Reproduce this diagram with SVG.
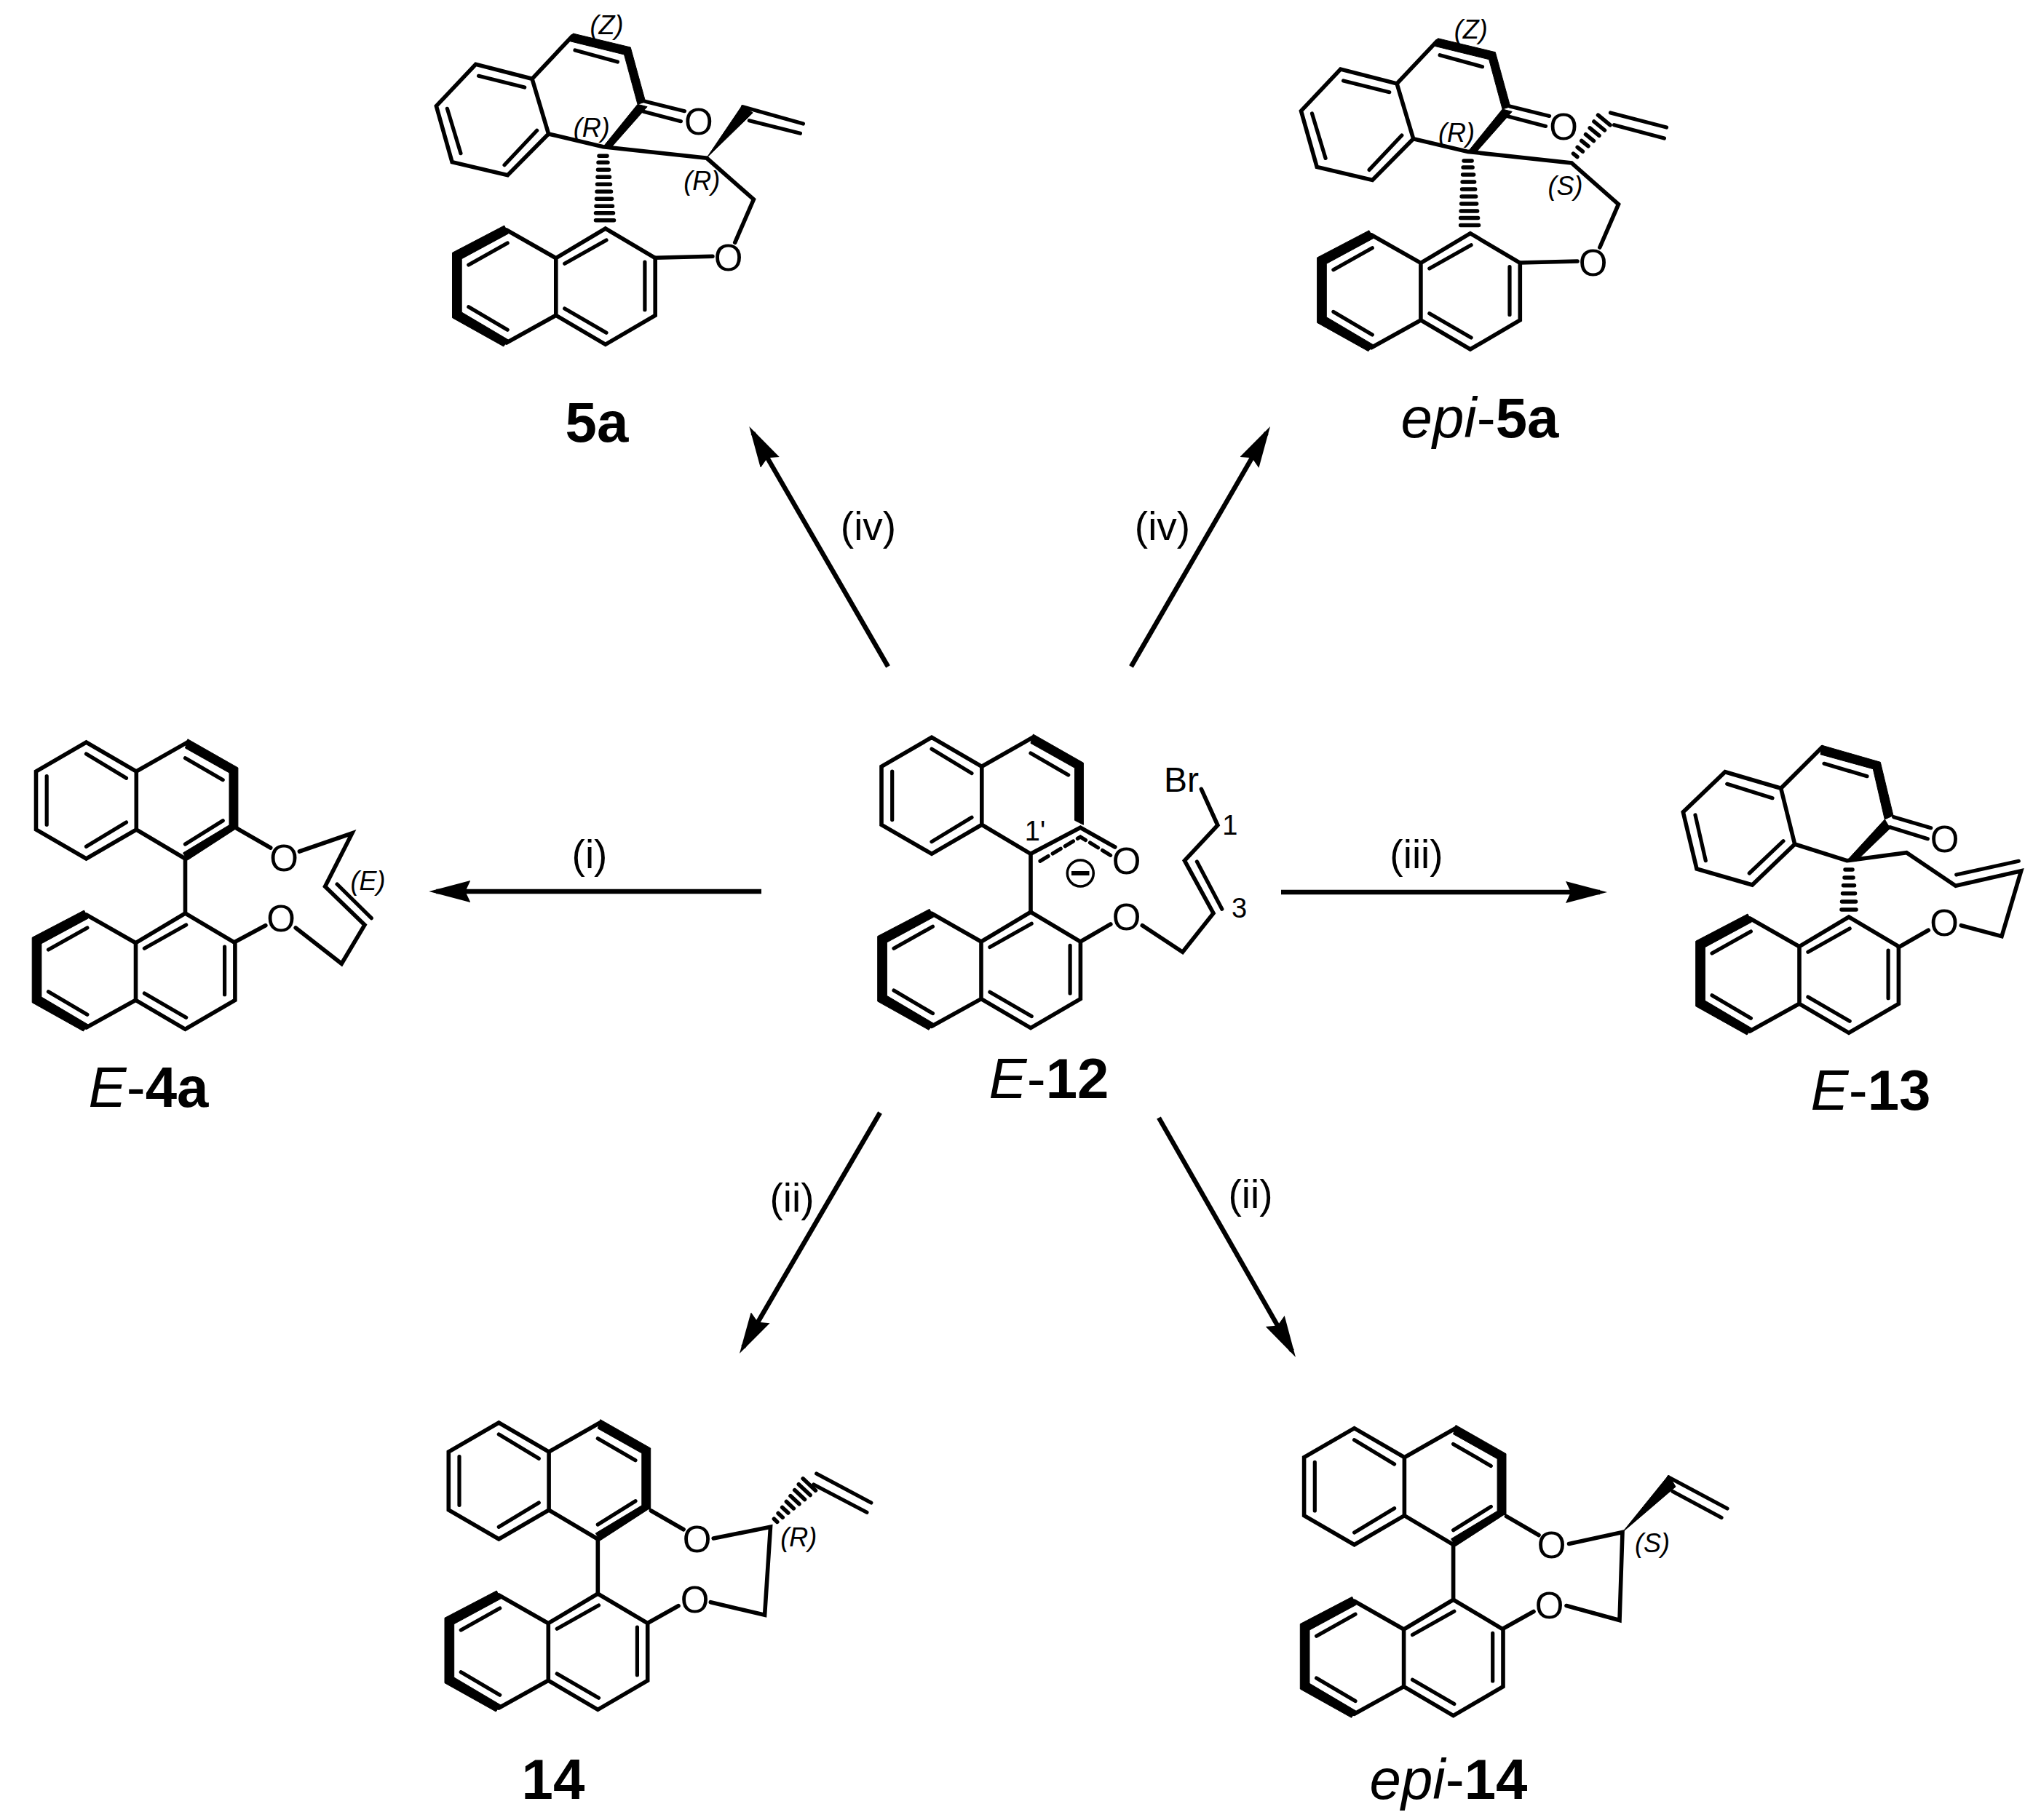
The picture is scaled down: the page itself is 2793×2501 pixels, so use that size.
<svg xmlns="http://www.w3.org/2000/svg" xmlns:xlink="http://www.w3.org/1999/xlink" width="2793" height="2501" viewBox="0 0 2793 2501">
<style>
.b{fill:none;stroke:#000;stroke-width:5.6;stroke-linejoin:miter;stroke-linecap:round}
.i{fill:none;stroke:#000;stroke-width:5.2;stroke-linecap:round}
.h{fill:none;stroke:#000;stroke-width:5.5;stroke-linecap:round}
.w{fill:#000;stroke:#000;stroke-width:1;stroke-linejoin:miter}
.a{fill:none;stroke:#000;stroke-width:6.5}
text{font-family:"Liberation Sans",Arial,sans-serif;fill:#000}
.o{font-size:51px;text-anchor:middle}
.s{font-size:36px;text-anchor:middle}
.n{font-size:38px;text-anchor:middle}
.it{font-style:italic}
.l{font-size:78px;text-anchor:middle}
.bd{font-weight:bold}
.r{font-size:55px;text-anchor:middle}
</style>
<defs>
<marker id="head" markerUnits="userSpaceOnUse" markerWidth="57" markerHeight="30" viewBox="0 0 57 30" refX="47" refY="15" orient="auto"><path d="M57 15L0 0L7 15L0 30Z" fill="#000"/></marker>
<g id="lowerNaph">
<path class="b" d="M-68 40.7L0 0L68.4 40.7V119.3L0 159.3L-68 119.3ZM-68 40.7L-136 2M-68 119.3L-136 157"/>
<path class="i" d="M-56.1 48.3L1.2 16M54.1 46V111.7M-56.1 110L1.2 143.3M-188 50L-134.6 20M-188 107.7L-134.6 139.3"/>
<path class="w" d="M-139 -4L-210.3 33.3V122.7L-140 162L-133.4 153L-197.6 115V41.7L-133.4 7Z"/>
</g>
<g id="upperNaph">
<path class="b" d="M0 0L-67.2 -40L-136 0L-205 -40V-120L-136 -160L-67.2 -120V-40M-67.2 -120L3 -160"/>
<path class="i" d="M-136 -16.7L-81 -50M-190.3 -113.3V-46.7M-136 -144L-81 -110.7M0 -138.3L51.7 -108.3"/>
<path class="w" d="M3.4 -164.3L72.4 -125V-40L60.5 -46V-118L0 -152Z"/>
</g>
<g id="upperBold">
<path class="w" d="M72.4 -43L3 2L-3 -8L60 -46Z"/>
<path class="i" d="M0 -20L51.7 -52.3"/>
</g>
<g id="ketoneCore">
<path class="b" d="M786 50L731 108.3L653.6 88.3L599.4 145.7L621.1 222.7L697.4 240.7L753.6 184L731 108.3M753.6 184L828.7 201.7L971 217.3L1035.4 274L1009.7 333.3M899.8 354.3L978.9 352.3"/>
<path class="i" d="M657.5 104.3L720.7 120M614.4 149.3L633 210.7M693 226.7L737.7 179.3M790 69L848.4 85M886 139.3L940.5 152.7M884 153.3L935.4 166.7"/>
<path class="w" d="M787.2 46L866.2 65L886.8 140L876 143.3L857.5 75L783.2 56.7Z"/>
<path class="w" d="M876 143.3L889.1 146.7L840.5 201.7L828.7 201.7Z"/>
<path class="h" d="M823 214.3H834M822 223.3H835M821.500 233.300H836.500M821 243.300H837.500M820.500 253.300H838.500M820 263.300H839.500M819.500 273.300H840.500M819 283.300H841.500M818.500 292.700H842.500M818.500 302.700H843.500"/>
<use xlink:href="#lowerNaph" href="#lowerNaph" transform="translate(831.8 314)"/>
</g>
</defs>
<rect width="2793" height="2501" fill="#fff"/>

<g id="connectors">
<line class="a" x1="1220" y1="916" x2="1034.300" y2="594.700" marker-end="url(#head)"/>
<line class="a" x1="1554" y1="916" x2="1740" y2="594.700" marker-end="url(#head)"/>
<line class="a" x1="1046" y1="1225" x2="599.300" y2="1225" marker-end="url(#head)"/>
<line class="a" x1="1760" y1="1226" x2="2198" y2="1226" marker-end="url(#head)"/>
<line class="a" x1="1209" y1="1529" x2="1021" y2="1851.400" marker-end="url(#head)"/>
<line class="a" x1="1592" y1="1536" x2="1775" y2="1856.300" marker-end="url(#head)"/>
</g>
<g id="conditions">
<text class="r" x="1193" y="742">(iv)</text>
<text class="r" x="1597" y="742">(iv)</text>
<text class="r" x="810" y="1193">(i)</text>
<text class="r" x="1946" y="1193">(iii)</text>
<text class="r" x="1088" y="1665">(ii)</text>
<text class="r" x="1718" y="1660">(ii)</text>
</g>

<g id="node-5a">
<use xlink:href="#ketoneCore" href="#ketoneCore"/>
<path class="w" d="M971 216.7L1019.6 145L1034.2 155Z"/>
<path class="i" d="M1020.4 146.700L1103.4 170M1029.4 165.700L1099.4 183.300"/>
<text class="o" x="959.900" y="185">O</text>
<text class="o" x="1000.600" y="372">O</text>
<text class="s it" x="833.400" y="46.700">(Z)</text>
<text class="s it" x="812.800" y="188">(R)</text>
<text class="s it" x="964.200" y="261">(R)</text>
<text class="l bd" x="820" y="607">5a</text>
</g>

<g id="node-epi-5a">
<use xlink:href="#ketoneCore" href="#ketoneCore" transform="translate(1188.100 6.700)"/>
<path class="h" d="M2161.500 211.100L2166.900 215.500M2167.200 202.300L2174.400 208.200M2172.800 193.500L2182 200.900M2178.500 184.700L2189.500 193.600M2184.200 175.800L2197 186.400M2189.900 167L2204.500 179M2195.500 158.200L2212.100 171.800"/>
<path class="i" d="M2212.500 155L2289.500 175M2217.600 171.700L2286.400 190"/>
<text class="o" x="2148" y="191.700">O</text>
<text class="o" x="2188.700" y="378.700">O</text>
<text class="s it" x="2020.800" y="53.400">(Z)</text>
<text class="s it" x="2000.900" y="194.700">(R)</text>
<text class="s it" x="2150.400" y="268">(S)</text>
<text class="l" x="2033" y="601"><tspan class="it">epi</tspan>-<tspan class="bd">5a</tspan></text>
</g>

<g id="node-E-4a">
<use xlink:href="#upperNaph" href="#upperNaph" transform="translate(254.500 1180)"/>
<use xlink:href="#upperBold" href="#upperBold" transform="translate(254.500 1180)"/>
<use xlink:href="#lowerNaph" href="#lowerNaph" transform="translate(254.500 1255)"/>
<path class="b" d="M254.500 1180V1255M325.200 1138.300L371.700 1165M411.400 1170L483.800 1145L446.600 1218.300L501 1271L469.300 1324.300L406.200 1275M323.400 1294L364.800 1271.700"/>
<path class="i" d="M463.100 1215L510.300 1261.700"/>
<text class="o" x="390" y="1197">O</text>
<text class="o" x="386.200" y="1279.700">O</text>
<text class="s it" x="505.500" y="1223.300">(E)</text>
<text class="l" x="204" y="1521"><tspan class="it">E</tspan>-<tspan class="bd">4a</tspan></text>
</g>

<g id="node-E-12">
<use xlink:href="#upperNaph" href="#upperNaph" transform="translate(1416 1173.300)"/>
<use xlink:href="#lowerNaph" href="#lowerNaph" transform="translate(1416 1253.300)"/>
<path class="b" d="M1416 1173.300L1484.300 1137.300L1531.800 1164M1416 1173.300V1253.300M1484.300 1294L1525.800 1270M1569.300 1271.700L1624.700 1308.300L1667 1255L1627.400 1182.700L1672.900 1134L1650.400 1084.300"/>
<path class="i" d="M1644.400 1184L1678.800 1249.300"/>
<path class="i" stroke-dasharray="13 7" d="M1429 1183.300L1484.300 1150L1527.800 1176.700"/>
<circle cx="1484.300" cy="1200" r="18" fill="none" stroke="#000" stroke-width="3.500"/>
<path d="M1472 1200H1496.500" stroke="#000" stroke-width="6" fill="none"/>
<text class="o" x="1547.600" y="1201">O</text>
<text class="o" x="1547.600" y="1278">O</text>
<text x="1599" y="1088.300" font-size="48">Br</text>
<text class="n" x="1422" y="1155">1'</text>
<text class="n" x="1689.900" y="1146.700">1</text>
<text class="n" x="1702.500" y="1260.700">3</text>
<text class="l" x="1441" y="1509"><tspan class="it">E</tspan>-<tspan class="bd">12</tspan></text>
</g>

<g id="node-E-13">
<use xlink:href="#lowerNaph" href="#lowerNaph" transform="translate(2540 1260)"/>
<path class="b" d="M2503.300 1026.700L2446.700 1083.300L2370 1060.700L2312.300 1116L2331 1194L2407.300 1216L2465.700 1160L2446.700 1083.300M2465.700 1160L2537.300 1182.700L2619.300 1171.700L2686.700 1217.300L2776.700 1196.700L2750 1286.700L2694.300 1271.700M2608.300 1301.700L2649.300 1278.300"/>
<path class="i" d="M2372.700 1077.300L2435 1096.700M2329 1120L2343.300 1182.700M2403.300 1200L2450 1155.700M2506 1049.300L2565 1066.700M2601.700 1122.700L2652.700 1137.700M2596.700 1136.700L2648.300 1152.700M2687.700 1202L2773.300 1183.300"/>
<path class="w" d="M2503.300 1024.300L2583.300 1047.300L2601 1120.700L2589.300 1126L2573.300 1056.700L2501 1036.700Z"/>
<path class="w" d="M2589.300 1126L2596.700 1138.300L2550 1183.300L2537.300 1182.700Z"/>
<path class="h" d="M2535 1195H2545M2534 1206H2546M2532.500 1216.700H2547.500M2531.500 1227.700H2548.500M2530.500 1239H2549.500M2530 1250H2550"/>
<text class="o" x="2671.700" y="1171.300">O</text>
<text class="o" x="2671" y="1286.300">O</text>
<text class="l" x="2570" y="1525"><tspan class="it">E</tspan>-<tspan class="bd">13</tspan></text>
</g>

<g id="node-14">
<use xlink:href="#upperNaph" href="#upperNaph" transform="translate(821.300 2115)"/>
<use xlink:href="#upperBold" href="#upperBold" transform="translate(821.300 2115)"/>
<use xlink:href="#lowerNaph" href="#lowerNaph" transform="translate(821.300 2190)"/>
<path class="b" d="M821.300 2115V2190M894.500 2076L939.100 2101.700M980.200 2114L1058.500 2098.300L1050.600 2219.300L976.300 2201.700M890.500 2230L932 2206.700"/>
<path class="h" d="M1063.400 2087.200L1067.800 2091.400M1069.100 2079.400L1075.300 2085.200M1074.700 2071.400L1082.900 2079M1080.400 2063.500L1090.400 2072.900M1086 2055.600L1098 2066.800M1091.700 2047.600L1105.500 2060.600M1097.300 2039.700L1113.100 2054.500M1103.100 2031.800L1120.500 2048.200"/>
<path class="i" d="M1121.700 2025L1196.800 2065M1117.800 2040L1190.900 2078.300"/>
<text class="o" x="957.700" y="2133">O</text>
<text class="o" x="954.600" y="2216.300">O</text>
<text class="s it" x="1097.200" y="2125">(R)</text>
<text class="l bd" x="760" y="2472">14</text>
</g>

<g id="node-epi-14">
<use xlink:href="#upperNaph" href="#upperNaph" transform="translate(1996.600 2122.700)"/>
<use xlink:href="#upperBold" href="#upperBold" transform="translate(1996.600 2122.700)"/>
<use xlink:href="#lowerNaph" href="#lowerNaph" transform="translate(1996.600 2198.300)"/>
<path class="b" d="M1996.600 2122.700V2198.300M2069.500 2083.700L2114 2109.500M2155.500 2121.500L2229 2105.500L2225 2226.500L2152 2206.500M2065 2238L2107 2214.500"/>
<path class="w" d="M2229 2105.500L2292.500 2027L2302 2043Z"/>
<path class="i" d="M2292.500 2030L2373 2073M2298 2049.500L2365 2085.500"/>
<text class="o" x="2131.700" y="2140.700">O</text>
<text class="o" x="2128.700" y="2224">O</text>
<text class="s it" x="2270" y="2133">(S)</text>
<text class="l" x="1990" y="2472"><tspan class="it">epi</tspan>-<tspan class="bd">14</tspan></text>
</g>
</svg>
